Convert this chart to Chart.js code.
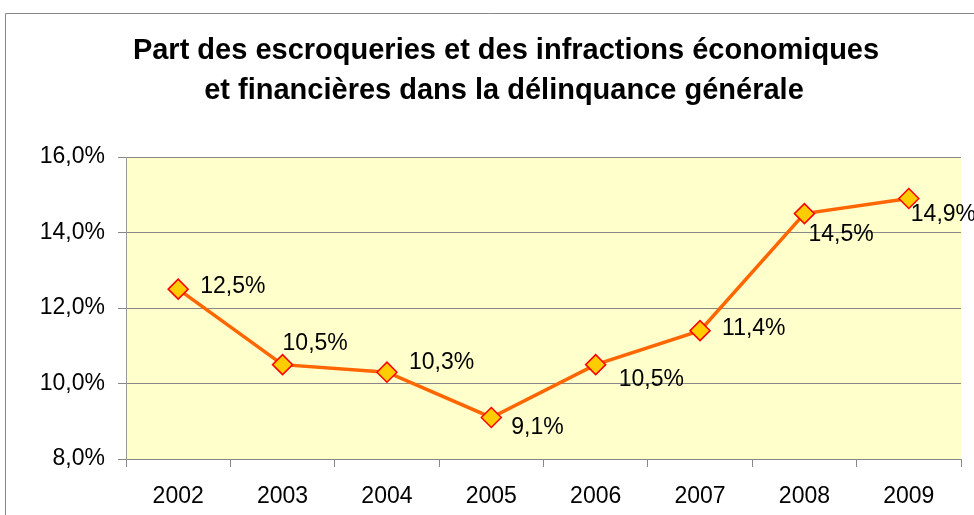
<!DOCTYPE html>
<html>
<head>
<meta charset="utf-8">
<script src="https://cdn.jsdelivr.net/npm/chart.js@4/dist/chart.umd.min.js"></script>
<style>
html,body{margin:0;padding:0;background:#fff;}
#wrap{width:974px;height:515px;position:relative;}
</style>
</head>
<body>
<div id="wrap"><canvas id="c" width="974" height="515"></canvas></div>
<script>
const titleLines = ["Part des escroqueries et des infractions économiques", "et financières dans la délinquance générale"];
const categories = ["2002", "2003", "2004", "2005", "2006", "2007", "2008", "2009"];
const values = [12.5, 10.5, 10.3, 9.1, 10.5, 11.4, 14.5, 14.9];
const yTicks = [8, 10, 12, 14, 16];
// label offsets (style): [dx, dy] relative to point center
const labelOffsets = [[22,-2],[0,-21],[22,-10],[20,10],[23,15],[22,-2],[4,21],[2,16]];

const FONT = "'Liberation Sans', Arial, sans-serif";
const fmt = v => v.toFixed(1).replace('.', ',') + '%';

const decor = {
  id: 'decor',
  beforeDraw(chart) {
    const ctx = chart.ctx, a = chart.chartArea;
    ctx.save();
    ctx.fillStyle = '#fff';
    ctx.fillRect(0, 0, chart.width, chart.height);
    ctx.strokeStyle = '#878787';
    ctx.lineWidth = 1;
    ctx.beginPath();
    ctx.moveTo(5.5, 515);
    ctx.lineTo(5.5, 13.5);
    ctx.lineTo(974, 13.5);
    ctx.stroke();
    ctx.fillStyle = '#FFFFCC';
    ctx.fillRect(a.left, a.top, a.right - a.left, a.bottom - a.top);
    ctx.fillStyle = '#000';
    ctx.font = "bold 29px " + FONT;
    ctx.textAlign = 'center';
    ctx.textBaseline = 'alphabetic';
    ctx.fillText(titleLines[0], 506, 59);
    ctx.fillText(titleLines[1], 504, 99);
    ctx.restore();
  },
  afterDatasetsDraw(chart) {
    const ctx = chart.ctx;
    const meta = chart.getDatasetMeta(0);
    ctx.save();
    ctx.fillStyle = '#000';
    ctx.font = "23px " + FONT;
    ctx.textAlign = 'left';
    ctx.textBaseline = 'middle';
    meta.data.forEach((pt, i) => {
      const o = labelOffsets[i];
      ctx.fillText(fmt(values[i]), pt.x + o[0], pt.y + o[1]);
    });
    ctx.restore();
  }
};

new Chart(document.getElementById('c'), {
  type: 'line',
  data: {
    labels: categories,
    datasets: [{
      data: values,
      borderColor: '#FF6600',
      borderWidth: 3.5,
      pointStyle: 'rectRot',
      pointRadius: 10,
      pointHoverRadius: 10,
      pointBackgroundColor: '#FFCC00',
      pointBorderColor: '#FF0000',
      pointBorderWidth: 1.5,
      tension: 0,
      clip: false
    }]
  },
  options: {
    responsive: false,
    animation: false,
    events: [],
    layout: { padding: { top: 157, right: 13, left: 0, bottom: 0 } },
    plugins: { legend: { display: false }, title: { display: false }, tooltip: { enabled: false } },
    scales: {
      x: {
        type: 'category',
        offset: true,
        grid: { offset: true, drawOnChartArea: false, drawTicks: true, tickLength: 8, color: '#888', lineWidth: 1 },
        border: { display: true, color: '#888', width: 1 },
        ticks: { color: '#000', font: { family: FONT, size: 23 }, padding: 16, maxRotation: 0, autoSkip: false },
        afterFit(s) { s.height = 56; }
      },
      y: {
        min: 8, max: 16,
        afterBuildTicks(s) { s.ticks = yTicks.map(v => ({ value: v })); },
        grid: { color: '#888', lineWidth: 1, tickLength: 8, drawTicks: true },
        border: { display: true, color: '#999', width: 1 },
        ticks: { color: '#000', font: { family: FONT, size: 23 }, padding: 13, callback: v => fmt(v) },
        afterFit(s) { s.width = 126; }
      }
    }
  },
  plugins: [decor]
});
</script>
</body>
</html>
